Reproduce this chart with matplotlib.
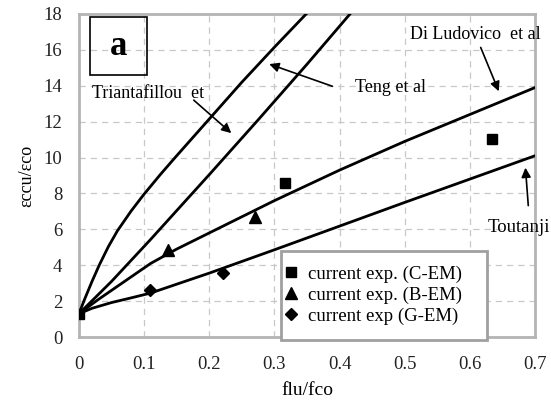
import matplotlib.pyplot as plt
from matplotlib.patches import Rectangle

# model curves
tri_x = [0, 0.008, 0.02, 0.031, 0.045, 0.059, 0.08, 0.099, 0.125, 0.147, 0.2, 0.25, 0.3, 0.35]
tri_y = [1.3, 2.05, 3.1, 4.0, 5.03, 5.92, 7.02, 7.92, 9.06, 9.98, 12.15, 14.2, 16.15, 18.05]
teng_x = [0, 0.05, 0.109, 0.2, 0.275, 0.35, 0.416]
teng_y = [1.3, 3.1, 5.4, 9.05, 12.1, 15.2, 18.0]
dil_x = [0, 0.03, 0.07, 0.11, 0.15, 0.2, 0.3, 0.4, 0.5, 0.6, 0.7]
dil_y = [1.3, 2.1, 3.1, 4.1, 4.9, 5.8, 7.6, 9.3, 10.9, 12.4, 13.9]
tou_x = [0, 0.02, 0.05, 0.08, 0.11, 0.2, 0.3, 0.4, 0.5, 0.6, 0.7]
tou_y = [1.3, 1.6, 1.92, 2.18, 2.45, 3.56, 4.86, 6.18, 7.5, 8.8, 10.1]

# experiments
c_x = [0, 0.316, 0.634]
c_y = [1.28, 8.6, 11.02]
b_x = [0.136, 0.27]
b_y = [4.85, 6.7]
g_x = [0.109, 0.221]
g_y = [2.62, 3.59]

plt.rcParams['font.family'] = ['Liberation Serif', 'DejaVu Serif']

fig = plt.figure(figsize=(5.51, 4.07), dpi=100)
ax = fig.add_axes([79/551, 1-337/407, 456/551, 323/407])

for xs, ys in [(tri_x, tri_y), (teng_x, teng_y), (dil_x, dil_y), (tou_x, tou_y)]:
    ax.plot(xs, ys, color='black', lw=2, zorder=3, solid_joinstyle='round')

ax.plot(c_x, c_y, 's', color='black', ms=7.5, ls='none', label='current exp. (C-EM)', zorder=4)
ax.plot(b_x, b_y, '^', color='black', ms=8.5, ls='none', label='current exp. (B-EM)', zorder=4)
ax.plot(g_x, g_y, 'D', color='black', ms=6.5, ls='none', label='current exp (G-EM)', zorder=4)

ax.set_xlim(0, 0.7)
ax.set_ylim(0, 18)
ax.set_xticks([0, 0.1, 0.2, 0.3, 0.4, 0.5, 0.6, 0.7])
ax.set_xticklabels(['0', '0.1', '0.2', '0.3', '0.4', '0.5', '0.6', '0.7'])
ax.set_yticks(range(0, 19, 2))
ax.tick_params(length=0, labelsize=13.5, colors='#222222')
ax.tick_params(axis='x', pad=14)
ax.tick_params(axis='y', pad=12)
ax.grid(True, ls=(0, (5, 4)), color='#c8c8c8', lw=0.9)
ax.set_axisbelow(True)
for s in ax.spines.values():
    s.set_color('#b4b4b4')
    s.set_linewidth(2)

ax.set_xlabel('flu/fco', fontsize=14, labelpad=6)
ax.set_ylabel('εccu/εco', fontsize=13, labelpad=6)

# panel letter
ax.add_patch(Rectangle((0.024, 0.811), 0.125, 0.18, transform=ax.transAxes,
                       fill=False, ec='black', lw=1.2, zorder=5))
ax.text(0.0865, 0.9, 'a', transform=ax.transAxes, fontsize=25, fontweight='bold',
        ha='center', va='center', zorder=5)

arr = dict(arrowstyle='-|>', color='black', lw=1.2, mutation_scale=14)
ax.annotate('', xy=(0.237, 11.26), xytext=(0.173, 13.3), arrowprops=arr)
ax.text(0.0195, 13.57, 'Triantafillou  et', fontsize=13, va='center')
ax.annotate('', xy=(0.288, 15.26), xytext=(0.393, 13.92), arrowprops=arr)
ax.text(0.424, 13.9, 'Teng et al', fontsize=13, va='center')
ax.annotate('', xy=(0.646, 13.55), xytext=(0.615, 16.28), arrowprops=arr)
ax.text(0.508, 16.83, 'Di Ludovico  et al', fontsize=13, va='center')
ax.annotate('', xy=(0.685, 9.59), xytext=(0.69, 7.17), arrowprops=arr)
ax.text(0.628, 6.08, 'Toutanji', fontsize=13.5, va='center', clip_on=False)

# legend box drawn separately so it can be sized like the original
ax.add_patch(Rectangle((0.444, -0.009), 0.451, 0.276, transform=ax.transAxes,
                       fc='white', ec='#a0a0a0', lw=2, zorder=5, clip_on=False))
leg = ax.legend(loc='upper left', bbox_to_anchor=(0.456, 0.222), borderaxespad=0,
                fontsize=13.5, frameon=False, handlelength=0.45, handletextpad=0.65,
                labelspacing=0.21, borderpad=0)
leg.set_zorder(6)

fig.savefig('out.png', dpi=100)
